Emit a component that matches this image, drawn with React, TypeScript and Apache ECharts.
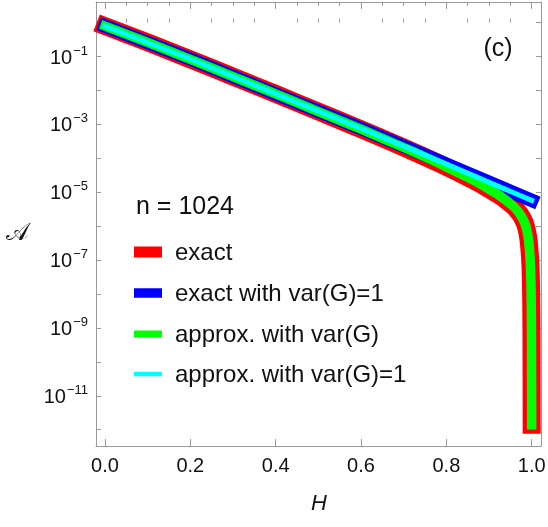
import React, { useEffect, useRef } from "react";
import * as echarts from "echarts";

// ---- data ----
const exactH = [0, 0.1, 0.2, 0.3, 0.4, 0.5, 0.6, 0.7, 0.75, 0.8, 0.85, 0.88, 0.9, 0.92, 0.94, 0.95, 0.96, 0.97, 0.975, 0.98, 0.985, 0.99, 0.993, 0.996, 0.998, 0.999, 0.9995, 0.9999];
const exactA = [0.794, 0.263, 0.0832, 0.0257, 0.00794, 0.0024, 7.24e-4, 2.09e-4, 1.1e-4, 5.62e-5, 2.75e-5, 1.74e-5, 1.23e-5, 8.7e-6, 5.75e-6, 4.57e-6, 3.55e-6, 2.51e-6, 2.04e-6, 1.58e-6, 1.12e-6, 6.3e-7, 3.55e-7, 1.26e-7, 3.16e-8, 5.0e-9, 5.0e-10, 1.4e-12];
const approxA = [0.794, 0.263, 0.0832, 0.0257, 0.00794, 0.0024, 7.24e-4, 2.09e-4, 1.1e-4, 5.62e-5, 2.75e-5, 1.74e-5, 1.23e-5, 8.7e-6, 5.75e-6, 4.57e-6, 3.55e-6, 2.51e-6, 2.04e-6, 1.58e-6, 1.12e-6, 6.3e-7, 3.55e-7, 1.26e-7, 3.16e-8, 5.0e-9, 5.0e-10, 1.4e-12];
const unitH = [0, 0.2, 0.4, 0.6, 0.8, 1.0];
const exactUnitA = [0.794, 0.0851, 7.94e-3, 7.59e-4, 6.76e-5, 5.75e-6];
const approxUnitA = [0.794, 0.0851, 7.94e-3, 7.59e-4, 6.76e-5, 5.75e-6];

const seriesNames = ["exact", "exact with var(G)=1", "approx. with var(G)", "approx. with var(G)=1"];
const seriesColors = ["#ff0000", "#0000ff", "#00ff00", "#00ffff"];
const nLabel = "n = 1024";
const panelLabel = "(c)";
const xMajorTicks = [0, 0.2, 0.4, 0.6, 0.8, 1.0];
const xMinorTicks = [0.05, 0.1, 0.15, 0.25, 0.3, 0.35, 0.45, 0.5, 0.55, 0.65, 0.7, 0.75, 0.85, 0.9, 0.95];
const yTickExponents = [0, -1, -2, -3, -4, -5, -6, -7, -8, -9, -10, -11, -12];
const yLabelExponents = [-1, -3, -5, -7, -9, -11];

const FONT = "'Liberation Sans', Arial, Helvetica, sans-serif";
const X_MIN = -0.0211;
const X_MAX = 1.0218;
const Y_MIN = -12.48; // log10 of axis bottom
const Y_MAX = 0.61; // log10 of axis top
const FRAME = "#9a9a9a";

function pairs(xs: number[], ys: number[]) {
  return xs.map((x, i) => [x, Math.log10(ys[i])]);
}

function supLabel(v: number) {
  const e = Math.round(v);
  const s = e < 0 ? "\u2212" + String(-e) : String(e);
  return "{b|10}{s|" + s + "}";
}

export default function App() {
  const ref = useRef<HTMLDivElement>(null);
  useEffect(() => {
    if (!ref.current) return;
    const chart = echarts.init(ref.current, null, { renderer: "svg" });
    const gridRect = { left: 96, right: 7, top: 2, bottom: 81, containLabel: false, outerBoundsMode: "none" };
    const xBase = {
      type: "value" as const,
      min: X_MIN,
      max: X_MAX,
      splitLine: { show: false },
      axisLine: { show: true, onZero: false, lineStyle: { color: FRAME, width: 1 } },
    };
    const yBase = {
      type: "value" as const,
      min: Y_MIN,
      max: Y_MAX,
      splitLine: { show: false },
      axisLine: { show: true, onZero: false, lineStyle: { color: FRAME, width: 1 } },
    };
    const widths = [18, 13.5, 9.5, 5];
    const datas = [pairs(exactH, exactA), pairs(unitH, exactUnitA), pairs(exactH, approxA), pairs(unitH, approxUnitA)];
    const rows = [252, 293, 334, 374];
    const swatchH = [11, 9.5, 7, 4.5];
    const graphic: any[] = [
      { type: "text", left: 136, top: 192, style: { text: nLabel, font: `25px ${FONT}`, fill: "#111" } },
      { type: "text", x: 498, y: 47, style: { text: panelLabel, font: `25px ${FONT}`, fill: "#111", align: "center", verticalAlign: "middle" } },
      { type: "text", x: 319, y: 502, style: { text: "H", font: `italic 22px ${FONT}`, fill: "#111", align: "center", verticalAlign: "middle" } },
      { type: "text", x: 17, y: 232, style: { text: "\uD835\uDC9C", font: `24px 'DejaVu Serif', 'DejaVu Sans', serif`, fill: "#111", align: "center", verticalAlign: "middle" } },
    ];
    seriesNames.forEach((nm, i) => {
      graphic.push({ type: "rect", shape: { x: 134, y: rows[i] - swatchH[i] / 2, width: 28, height: swatchH[i] }, style: { fill: seriesColors[i] } });
      graphic.push({ type: "text", x: 175, y: rows[i] - 1, style: { text: nm, font: `24px ${FONT}`, fill: "#111", verticalAlign: "middle" } });
    });
    chart.setOption({
      animation: false,
      grid: [{ ...gridRect }, { ...gridRect }],
      xAxis: [
        {
          ...xBase,
          gridIndex: 0,
          position: "bottom",
          axisTick: { show: true, inside: true, length: 7, lineStyle: { color: FRAME }, customValues: xMajorTicks },
          axisLabel: { show: true, margin: 9, fontFamily: FONT, fontSize: 20, color: "#111", customValues: xMajorTicks, formatter: (v: number) => v.toFixed(1) },
        },
        {
          ...xBase,
          gridIndex: 0,
          position: "top",
          axisTick: { show: true, inside: true, length: 7, lineStyle: { color: FRAME }, customValues: xMajorTicks },
          axisLabel: { show: false },
        },
        {
          ...xBase,
          gridIndex: 1,
          position: "bottom",
          axisLine: { show: false },
          axisTick: { show: true, inside: true, length: 4, lineStyle: { color: FRAME }, customValues: xMinorTicks },
          axisLabel: { show: false },
        },
        {
          ...xBase,
          gridIndex: 1,
          position: "top",
          axisLine: { show: false },
          axisTick: { show: true, inside: true, length: 4, lineStyle: { color: FRAME }, customValues: xMinorTicks },
          axisLabel: { show: false },
        },
      ],
      yAxis: [
        {
          ...yBase,
          gridIndex: 0,
          position: "left",
          axisTick: { show: true, inside: true, length: 5, lineStyle: { color: FRAME }, customValues: yTickExponents },
          axisLabel: {
            show: true,
            margin: 8,
            customValues: yLabelExponents,
            formatter: supLabel,
            rich: {
              b: { fontFamily: FONT, fontSize: 20, color: "#111", lineHeight: 26 },
              s: { fontFamily: FONT, fontSize: 13, color: "#111", lineHeight: 13, verticalAlign: "top", padding: [0, 0, 0, 1] },
            },
          },
        },
        {
          ...yBase,
          gridIndex: 0,
          position: "right",
          axisTick: { show: true, inside: true, length: 5, lineStyle: { color: FRAME }, customValues: yTickExponents },
          axisLabel: { show: false },
        },
        {
          ...yBase,
          gridIndex: 1,
          show: false,
        },
      ],
      series: datas.map((d, i) => ({
        name: seriesNames[i],
        type: "line",
        data: d,
        xAxisIndex: 0,
        yAxisIndex: 0,
        showSymbol: false,
        symbol: "none",
        smooth: i % 2 === 0 ? 0.25 : false,
        lineStyle: { color: seriesColors[i], width: widths[i], cap: "square", join: "round" },
        z: 2 + i,
        silent: true,
      })),
      graphic,
    });
    return () => chart.dispose();
  }, []);
  return <div ref={ref} style={{ position: "fixed", left: 0, top: 0, width: 548, height: 527 }} />;
}
